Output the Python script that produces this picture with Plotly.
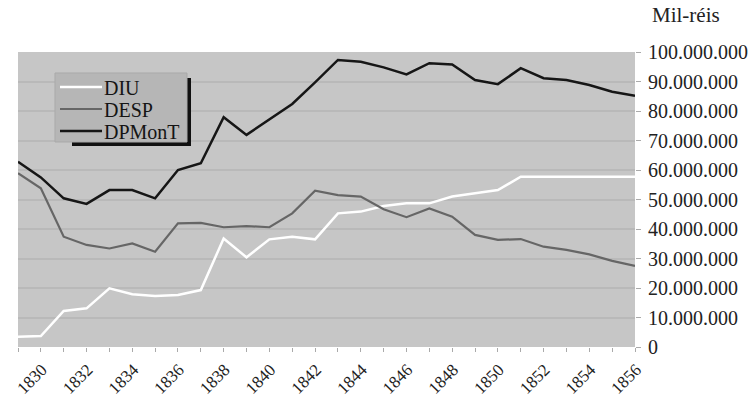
import plotly.graph_objects as go

# Annual values in mil-réis
years = list(range(1830, 1858))
diu = [3_500_000, 3_700_000, 12_200_000, 13_100_000, 19_900_000, 17_900_000, 17_300_000,
       17_600_000, 19_300_000, 36_800_000, 30_400_000, 36_500_000, 37_400_000, 36_500_000,
       45_300_000, 45_900_000, 47_800_000, 48_700_000, 48_700_000, 51_000_000, 52_100_000,
       53_200_000, 57_700_000, 57_700_000, 57_700_000, 57_700_000, 57_700_000, 57_700_000]
desp = [58_900_000, 53_800_000, 37_400_000, 34_600_000, 33_400_000, 35_100_000, 32_300_000,
        41_900_000, 42_100_000, 40_600_000, 41_000_000, 40_600_000, 45_300_000, 53_000_000,
        51_500_000, 51_000_000, 46_700_000, 44_000_000, 47_000_000, 44_200_000, 38_000_000,
        36_300_000, 36_600_000, 34_000_000, 32_900_000, 31_400_000, 29_200_000, 27_500_000]
dpmont = [62_800_000, 57_500_000, 50_400_000, 48_500_000, 53_200_000, 53_200_000, 50_400_000,
          60_000_000, 62_300_000, 77_900_000, 71_900_000, 77_200_000, 82_400_000, 89_700_000,
          97_300_000, 96_700_000, 94_800_000, 92_400_000, 96_200_000, 95_800_000, 90_500_000,
          89_100_000, 94_500_000, 91_100_000, 90_500_000, 88_800_000, 86_500_000, 85_200_000]
series_names = ["DIU", "DESP", "DPMonT"]
year_ticks = list(range(1830, 1857, 2))
value_ticks = list(range(0, 100_000_001, 10_000_000))

W, H = 751, 397
L, R, T, B = 18, 635, 52, 347  # plot area in pixels
FONT = "Liberation Serif, Times New Roman, serif"
styles = [dict(color="#ffffff", width=2.5),
          dict(color="#666666", width=2.2),
          dict(color="#161616", width=2.5)]


def px(x):
    return (x - L) / (R - L)


def py(y):
    return (B - y) / (B - T)


fig = go.Figure()
for name, values, style in zip(series_names, [diu, desp, dpmont], styles):
    fig.add_trace(go.Scatter(x=years, y=values, name=name, mode="lines",
                             line=style, showlegend=False))

# legend: shadowed box, line samples and labels
shapes = [
    dict(type="rect", xref="paper", yref="paper", layer="above",
         x0=px(72), x1=px(191), y0=py(146), y1=py(142),
         fillcolor="#111111", line=dict(width=0)),
    dict(type="rect", xref="paper", yref="paper", layer="above",
         x0=px(187), x1=px(191), y0=py(146), y1=py(78),
         fillcolor="#111111", line=dict(width=0)),
    dict(type="rect", xref="paper", yref="paper", layer="above",
         x0=px(55), x1=px(187), y0=py(142), y1=py(73),
         fillcolor="#b6b6b6", line=dict(color="#a9a9a9", width=1)),
]
annotations = []
row_y = [87, 109, 131]
for name, style, ry in zip(series_names, styles, row_y):
    shapes.append(dict(type="line", xref="paper", yref="paper", layer="above",
                       x0=px(60), x1=px(102), y0=py(ry), y1=py(ry),
                       line=style))
    annotations.append(dict(text=name, xref="paper", yref="paper",
                            x=px(102), y=py(ry + 1), xanchor="left", yanchor="middle",
                            showarrow=False,
                            font=dict(family=FONT, size=20, color="#141414")))

annotations.append(dict(text="Mil-réis", xref="paper", yref="paper",
                        x=px(650), y=py(15), xanchor="left", yanchor="middle",
                        showarrow=False,
                        font=dict(family=FONT, size=21, color="#222222")))

fig.update_layout(
    width=W, height=H,
    margin=dict(l=L, r=W - R, t=T, b=H - B, pad=0, autoexpand=False),
    paper_bgcolor="#ffffff",
    plot_bgcolor="#c6c6c6",
    separators=",.",
    font=dict(family=FONT, size=20, color="#222222"),
    showlegend=False,
    shapes=shapes,
    annotations=annotations,
    xaxis=dict(range=[1830, 1857], tickvals=year_ticks, tickangle=-45,
               ticks="outside", ticklen=4, tickcolor="#aaaaaa",
               minor=dict(dtick=1, ticks="outside", ticklen=4, tickcolor="#aaaaaa"),
               showgrid=False, zeroline=False, showline=False, automargin=False,
               tickfont=dict(family=FONT, size=17, color="#222222"),
               ticklabelshift=24, ticklabelstandoff=1),
    yaxis=dict(range=[0, 100_000_000], tickvals=value_ticks, tickformat=",d",
               side="right", ticks="outside", ticklen=5, tickcolor="#aaaaaa",
               showgrid=True, gridcolor="#b9b9b9", gridwidth=1.5,
               zeroline=False, showline=False, automargin=False,
               tickfont=dict(family=FONT, size=20, color="#222222"),
               ticklabelstandoff=3),
)

fig.write_html("out.html")
